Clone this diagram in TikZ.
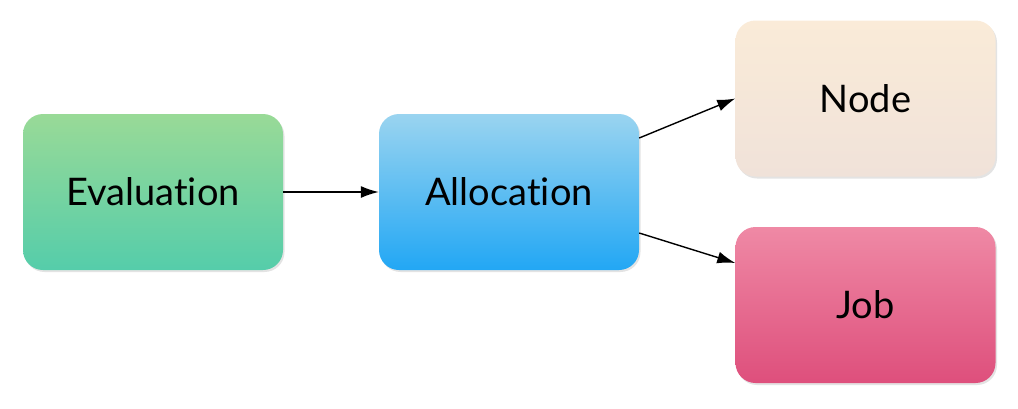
\documentclass[tikz,border=0pt]{standalone}
\usepackage{fontspec}
\setmainfont[Ligatures={NoCommon}]{Lato}
\usetikzlibrary{shadows,arrows.meta}
\definecolor{evtop}{HTML}{99DA97}
\definecolor{evbot}{HTML}{55CDAA}
\definecolor{altop}{HTML}{9AD4F0}
\definecolor{albot}{HTML}{22A7F4}
\definecolor{notop}{HTML}{FAEBD8}
\definecolor{nobot}{HTML}{F0E2D9}
\definecolor{jotop}{HTML}{EF89A5}
\definecolor{jobot}{HTML}{DE4F7C}
\tikzset{
  box/.style={rounded corners=20pt, minimum width=260pt, minimum height=156pt,
    inner sep=0pt, font=\fontsize{38}{42}\selectfont, text=black,
    drop shadow={shadow xshift=1.5pt, shadow yshift=-2pt, opacity=0.18, fill=black!60}},
  conn/.style={line width=1.4pt, -{Latex[length=18pt,width=12pt]}}
}
\begin{document}
\begin{tikzpicture}[x=1pt,y=-1pt]
\useasboundingbox (0,0) rectangle (1018,408);
\node[box, top color=evtop, bottom color=evbot] (eval) at (153,192) {Evaluation};
\node[box, top color=altop, bottom color=albot] (alloc) at (509,192) {Allocation};
\node[box, top color=notop, bottom color=nobot] (nd) at (865.5,98.5) {Node};
\node[box, top color=jotop, bottom color=jobot] (job) at (865.5,305) {Job};
\draw[conn] (eval.east) -- (alloc.west);
\draw[conn] ([yshift=54pt]alloc.east) -- (nd.west);
\draw[conn] ([yshift=-41pt]alloc.east) -- ([yshift=42pt]job.west);
\end{tikzpicture}
\end{document}
